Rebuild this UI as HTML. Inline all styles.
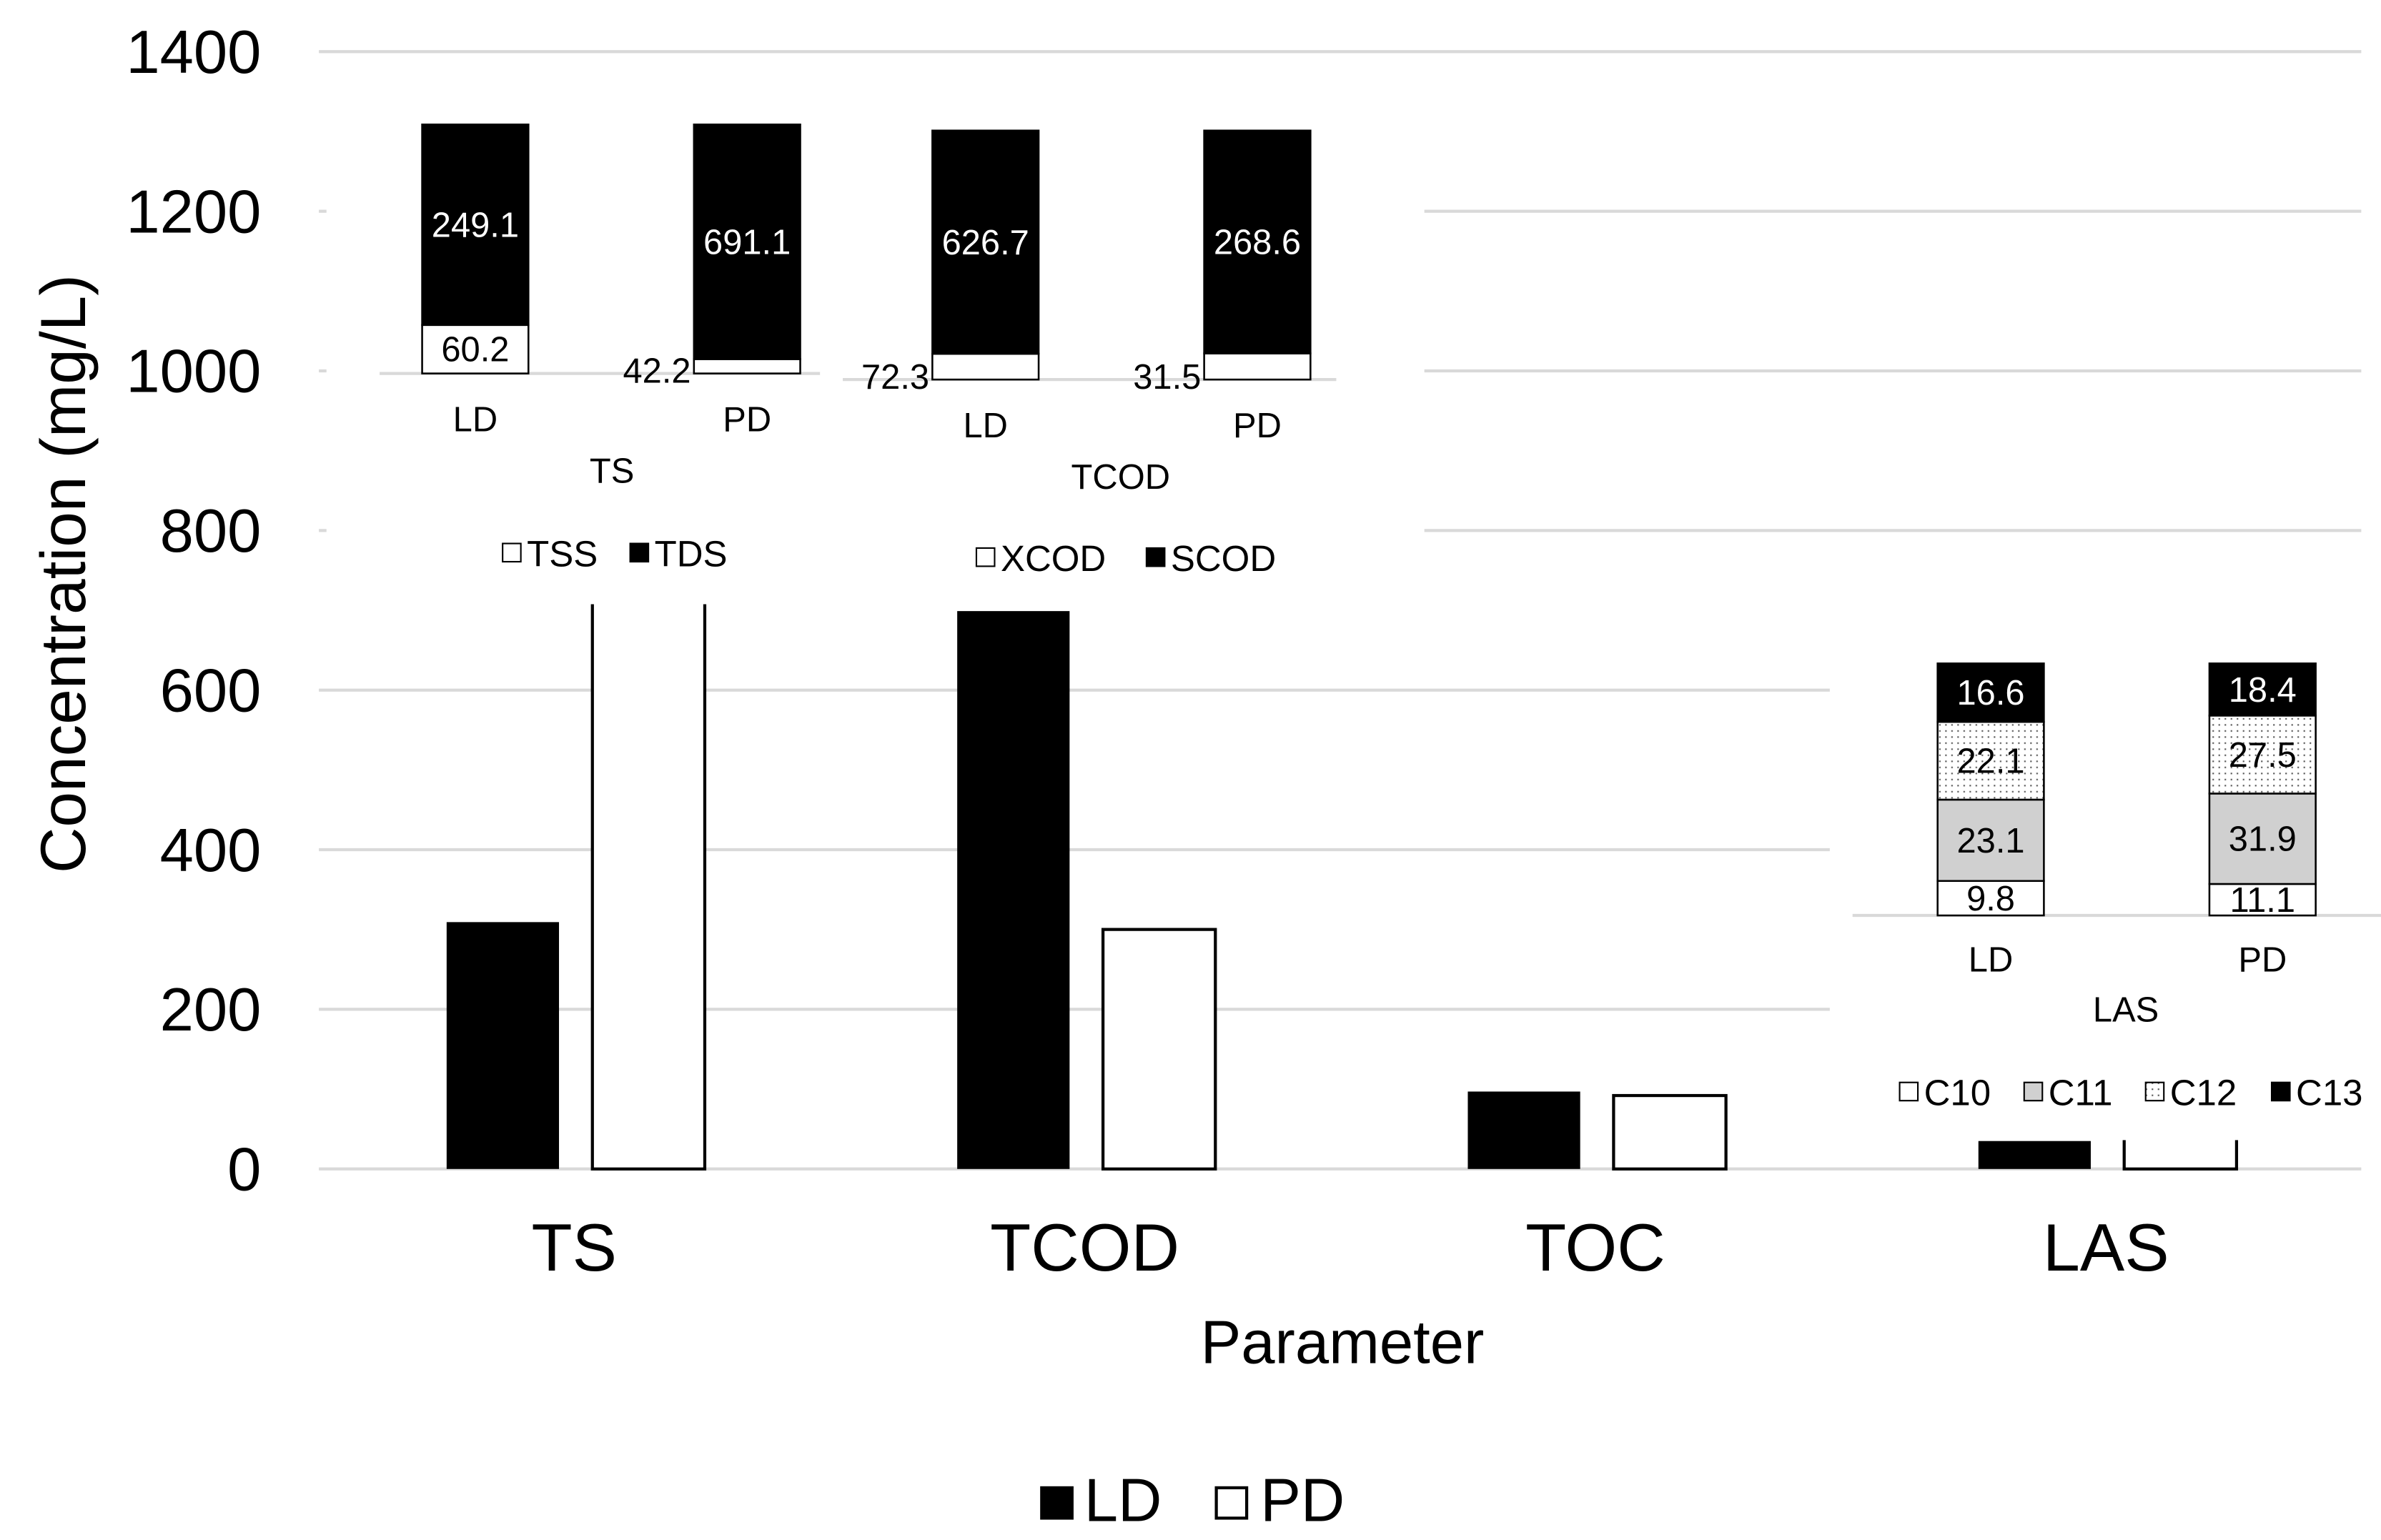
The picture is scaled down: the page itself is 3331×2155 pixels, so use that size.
<!DOCTYPE html>
<html><head><meta charset="utf-8"><style>
html,body{margin:0;padding:0;background:#fff;}
svg{display:block;font-family:"Liberation Sans",Arial,sans-serif;}
</style></head><body>
<svg id="chart" width="3331" height="2155" viewBox="0 0 1568 1014.4" preserveAspectRatio="none" xmlns="http://www.w3.org/2000/svg">
<defs>
<pattern id="dots" width="4" height="4" patternUnits="userSpaceOnUse"><rect width="4" height="4" fill="#fff"/><rect x="1" y="1" width="1" height="1" fill="#555"/></pattern>
</defs>
<g id="main"></g>
<g id="insets"></g>
</svg>
<script>
// main chart data
const categories = ["TS","TCOD","TOC","LAS"];
const ldValues = [309.3, 699.0, 97, 35];
const pdValues = [733.3, 300.1, 92, 89];
const yTicks = [0,200,400,600,800,1000,1200,1400];
// inset data (100% stacked)
const tsSeries = ["TSS","TDS"];
const tsLD = [60.2, 249.1];
const tsPD = [42.2, 691.1];
const codSeries = ["XCOD","SCOD"];
const codLD = [72.3, 626.7];
const codPD = [31.5, 268.6];
const lasSeries = ["C10","C11","C12","C13"];
const lasLD = [9.8, 23.1, 22.1, 16.6];
const lasPD = [11.1, 31.9, 27.5, 18.4];
const groups = ["LD","PD"];

const NS="http://www.w3.org/2000/svg";
function mk(tag, attrs, parent, text){const e=document.createElementNS(NS,tag);for(const k in attrs)e.setAttribute(k,attrs[k]);if(text!==undefined)e.textContent=text;parent.appendChild(e);return e;}
const main=document.getElementById('main'), ins=document.getElementById('insets');
const y0=770, yTop=34, plotL=210, plotR=1555;
const y=v=>y0-(v/1400)*(y0-yTop);
const catW=(plotR-plotL)/categories.length;
const xc=i=>plotL+catW*(i+0.5);

yTicks.forEach(t=>{
  const g=mk('line',{x1:plotL,x2:plotR,y1:y(t),y2:y(t),stroke:'#d9d9d9','stroke-width':2},main);
  
  
  const l=mk('text',{x:172,y:y(t)+14,'text-anchor':'end','font-size':40,fill:'#000'},main,String(t));
  
  
});
categories.forEach((c,i)=>{
  const a=mk('rect',{x:xc(i)-84,y:y(ldValues[i]),width:74,height:y0-y(ldValues[i]),fill:'#000'},main);
  
  
  const b=mk('rect',{x:xc(i)+12,y:y(pdValues[i]),width:74,height:y0-y(pdValues[i]),fill:'#fff',stroke:'#000','stroke-width':2},main);
  
  
  const t=mk('text',{x:xc(i),y:837,'text-anchor':'middle','font-size':44},main,c);
  
  
});
let e=mk('text',{x:884,y:898,'text-anchor':'middle','font-size':40},main,'Parameter');


e=mk('text',{x:0,y:0,'text-anchor':'middle','font-size':42,transform:'translate(56,378) rotate(-90)'},main,'Concentration (mg/L)');


e=mk('rect',{x:685,y:979,width:22,height:22,fill:'#000'},main);


e=mk('text',{x:714,y:1002,'font-size':40},main,'LD');


e=mk('rect',{x:801,y:980,width:20,height:20,fill:'#fff',stroke:'#000','stroke-width':2},main);


e=mk('text',{x:830,y:1002,'font-size':40},main,'PD');



// inset backgrounds
e=mk('rect',{x:215,y:48,width:723,height:350,fill:'#fff'},ins);


e=mk('rect',{x:1205,y:425,width:363,height:326,fill:'#fff'},ins);



const fills={TSS:'#fff',TDS:'#000',XCOD:'#fff',SCOD:'#000',C10:'#fff',C11:'#d0d0d0',C12:'url(#dots)',C13:'#000'};
const txtCol={TSS:'#000',TDS:'#fff',XCOD:'#000',SCOD:'#fff',C10:'#000',C11:'#000',C12:'#000',C13:'#fff'};

function inset(opt){
  const {name,series,data,base,top,axisL,axisR,xs,labelY,titleX,titleY,legX,legY,outside}=opt;
  let a=mk('line',{x1:axisL,x2:axisR,y1:base,y2:base,stroke:'#d9d9d9','stroke-width':2},ins);
  
  
  data.forEach((vals,gi)=>{
    const tot=vals.reduce((s,v)=>s+v,0);
    let cum=0;
    vals.forEach((v,si)=>{
      const yb=base-(cum/tot)*(base-top), yt=base-((cum+v)/tot)*(base-top);
      cum+=v;
      const r=mk('rect',{x:xs[gi]-35,y:yt,width:70,height:yb-yt,fill:fills[series[si]],stroke:'#000','stroke-width':1.2},ins);
      
      
      let tx=xs[gi], ty=(yb+yt)/2+8, anchor='middle';
      if(outside && si===0 && (yb-yt)<22){tx=xs[gi]-37;ty=base+6;anchor='end';}
      const t=mk('text',{x:tx,y:ty,'text-anchor':anchor,'font-size':23,fill:(anchor==='end'?'#000':txtCol[series[si]])},ins,v.toFixed(1));
      
      
    });
    const l=mk('text',{x:xs[gi],y:labelY,'text-anchor':'middle','font-size':23},ins,groups[gi]);
    
    
  });
  const t=mk('text',{x:titleX,y:titleY,'text-anchor':'middle','font-size':23},ins,opt.title);
  
  
  series.forEach((s,si)=>{
    const sw=mk('rect',{x:legX[si],y:legY-15,width:12,height:12,fill:fills[s],stroke:'#000','stroke-width':1},ins);
    
    
    const lt=mk('text',{x:legX[si]+16,y:legY,'font-size':24},ins,s);
    
    
  });
}
inset({name:'inset-ts',title:'TS',series:tsSeries,data:[tsLD,tsPD],base:246,top:82,axisL:250,axisR:540,xs:[313,492],labelY:284,titleX:403,titleY:318,legX:[331,415],legY:373,outside:true});
inset({name:'inset-tcod',title:'TCOD',series:codSeries,data:[codLD,codPD],base:250,top:86,axisL:555,axisR:880,xs:[649,828],labelY:288,titleX:738,titleY:322,legX:[643,755],legY:376,outside:true});
inset({name:'inset-las',title:'LAS',series:lasSeries,data:[lasLD,lasPD],base:603,top:437,axisL:1220,axisR:1568,xs:[1311,1490],labelY:640,titleX:1400,titleY:673,legX:[1251,1333,1413,1496],legY:728,outside:false});
</script>
</body></html>
